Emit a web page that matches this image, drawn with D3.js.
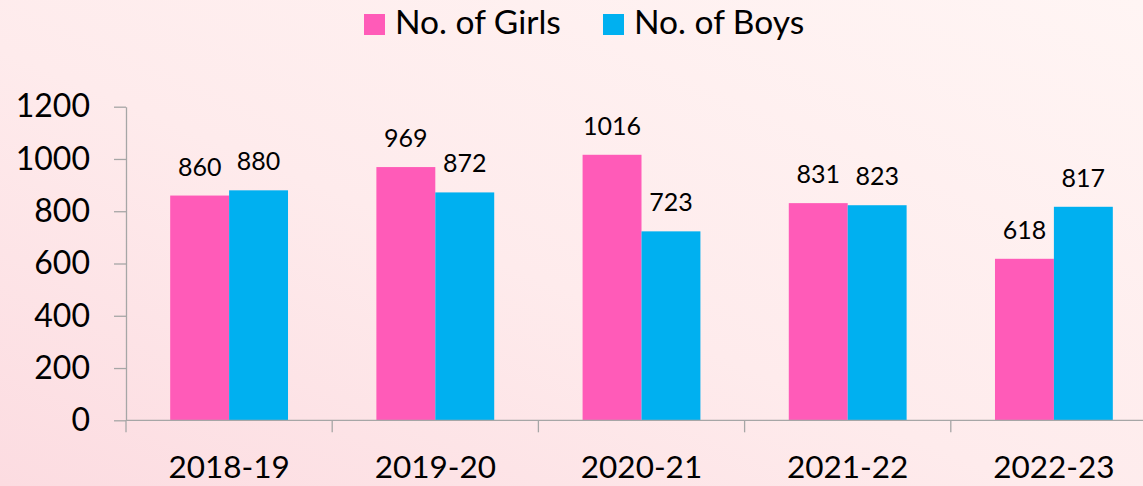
<!DOCTYPE html>
<html><head><meta charset="utf-8">
<script src="https://cdn.jsdelivr.net/npm/d3@7"></script>
<style>
html,body{margin:0;padding:0;overflow:hidden;}
svg{display:block;font-family:Lato,"Open Sans",sans-serif;}
</style></head><body>
<svg id="c" width="1143" height="486"></svg>
<script>
const categories = ["2018-19","2019-20","2020-21","2021-22","2022-23"];
const girls = [860, 969, 1016, 831, 618];
const boys = [880, 872, 723, 823, 817];
const seriesNames = ["No. of Girls","No. of Boys"];
const seriesColors = ["#FF5BB8","#00B0F0"];
const yTicks = [0,200,400,600,800,1000,1200];

const svg = d3.select("#c");
const W = 1143, H = 486;
const defs = svg.append("defs");
const grad = defs.append("linearGradient").attr("id","bg")
  .attr("x1","0").attr("y1","1").attr("x2","1").attr("y2","0");
grad.append("stop").attr("offset","0").attr("stop-color","#FCDCE1");
grad.append("stop").attr("offset","0.45").attr("stop-color","#FEEBEC");
grad.append("stop").attr("offset","1").attr("stop-color","#FFF5F4");
svg.append("rect").attr("width",W).attr("height",H).attr("fill","url(#bg)");

const axisLeft = 126, y0 = 420.3, yTop = 106.7;
const step = 206.2;
const x0 = d3.scaleBand().domain(categories).range([axisLeft, axisLeft + step*categories.length]).padding(0);
const x1 = d3.scaleBand().domain([0,1]).range([0, x0.bandwidth()]).paddingInner(0).paddingOuter(0.75);
const y = d3.scaleLinear().domain([0,1200]).range([y0, yTop]);

const data = categories.map((c,i)=>({cat:c, vals:[girls[i], boys[i]]}));

const g = svg.append("g");
const groups = g.selectAll("g.grp").data(data).join("g")
  .attr("transform", d=>`translate(${x0(d.cat)},0)`);
groups.selectAll("rect").data(d=>d.vals.map((v,k)=>({v,k}))).join("rect")
  .attr("x", d=>x1(d.k)).attr("width", x1.bandwidth())
  .attr("y", d=>y(d.v)).attr("height", d=>y(0)-y(d.v))
  .attr("fill", d=>seriesColors[d.k]);
groups.selectAll("text.lbl").data(d=>d.vals.map((v,k)=>({v,k}))).join("text")
  .attr("class","lbl")
  .attr("x", d=>x1(d.k)+x1.bandwidth()/2)
  .attr("y", d=>y(d.v)-20)
  .attr("text-anchor","middle")
  .attr("font-size",25)
  .attr("fill","#000")
  .text(d=>d.v);

// Y axis
const yAxis = d3.axisLeft(y).tickValues(yTicks).tickFormat(d3.format("d"))
  .tickSize(12).tickSizeOuter(0).tickPadding(24);
const ya = svg.append("g").attr("transform",`translate(${axisLeft},0)`).call(yAxis);
ya.selectAll("text").attr("font-size",32).attr("fill","#000").attr("font-family","Lato");
ya.selectAll("line,path").attr("stroke","#A6A6A6").attr("stroke-width",1.3);

// X axis
const xa = svg.append("g").attr("transform",`translate(0,${y0})`);
xa.append("line").attr("x1",axisLeft).attr("x2",axisLeft+step*categories.length)
  .attr("stroke","#A6A6A6").attr("stroke-width",1.3);
const bounds = categories.map(c=>x0(c));
xa.selectAll("line.tk").data(bounds).join("line").attr("class","tk")
  .attr("x1",d=>d).attr("x2",d=>d).attr("y1",0).attr("y2",12)
  .attr("stroke","#A6A6A6").attr("stroke-width",1.3);
xa.selectAll("text").data(categories).join("text")
  .attr("x",d=>x0(d)+x0.bandwidth()/2).attr("y",58)
  .attr("text-anchor","middle").attr("font-size",31.5).attr("fill","#000")
  .text(d=>d);

// Legend
const legX = [364, 603];
const leg = svg.append("g");
seriesNames.forEach((n,i)=>{
  leg.append("rect").attr("x",legX[i]).attr("y",14).attr("width",21).attr("height",21).attr("fill",seriesColors[i]);
  leg.append("text").attr("x",legX[i]+31).attr("y",34.3).attr("font-size",33.5).attr("fill","#000").text(n);
});
</script></body></html>
